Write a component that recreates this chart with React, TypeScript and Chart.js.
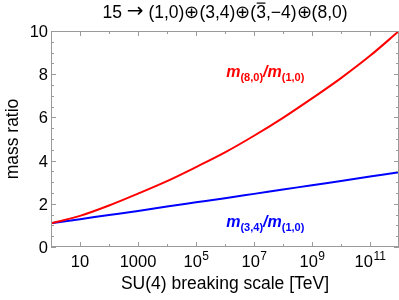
import React, { useEffect, useRef } from "react";
import { Chart, registerables } from "chart.js";

Chart.register(...registerables);

// Data (x = 10^exponent TeV)
const decadeExponents = [0, 1, 2, 3, 4, 5, 6, 7, 8, 9, 10, 11, 12];
const ratio80 = [1.1, 1.44, 1.92, 2.47, 3.05, 3.7, 4.38, 5.15, 5.98, 6.88, 7.82, 8.85, 10.0];
const ratio34 = [1.1, 1.29, 1.48, 1.67, 1.88, 2.07, 2.26, 2.46, 2.66, 2.86, 3.06, 3.26, 3.46];
const xTickExponents = [0, 1, 2, 3, 4, 5, 6, 7, 8, 9, 10, 11, 12];
const labelledExponents = [1, 3, 5, 7, 9, 11];
const yMajorTicks = [0, 2, 4, 6, 8, 10];

// Series label anchors (data coordinates)
const label80 = { x: 1.1e6, y: 7.88, num: "(8,0)", den: "(1,0)", color: "#ff0000" };
const label34 = { x: 1.1e6, y: 0.92, num: "(3,4)", den: "(1,0)", color: "#0000ff" };

const FONT = "'Liberation Sans', Arial, Helvetica, sans-serif";
const FRAME = "#9a9a9a";

const customPlugin = {
  id: "mathematicaFrame",
  afterDatasetsDraw(chart: any) {
    const ctx = chart.ctx;
    const { left, right, top, bottom } = chart.chartArea;
    const xs = chart.scales.x;
    const ys = chart.scales.y;
    ctx.save();
    ctx.strokeStyle = FRAME;
    ctx.lineWidth = 1;
    ctx.strokeRect(left + 0.5, top + 0.5, right - left - 1, bottom - top - 1);
    xs.ticks.forEach((t: any) => {
      const px = Math.round(xs.getPixelForValue(t.value)) + 0.5;
      const e = Math.round(Math.log10(t.value));
      const len = labelledExponents.includes(e) ? 5 : 3;
      ctx.beginPath();
      ctx.moveTo(px, bottom);
      ctx.lineTo(px, bottom - len);
      ctx.moveTo(px, top);
      ctx.lineTo(px, top + len);
      ctx.stroke();
    });
    ys.ticks.forEach((t: any) => {
      const py = Math.round(ys.getPixelForValue(t.value)) + 0.5;
      const len = yMajorTicks.includes(t.value) ? 5 : 3;
      ctx.beginPath();
      ctx.moveTo(left, py);
      ctx.lineTo(left + len, py);
      ctx.moveTo(right, py);
      ctx.lineTo(right - len, py);
      ctx.stroke();
    });
    ctx.restore();
  },
  afterDraw(chart: any) {
    const ctx = chart.ctx;
    const { left, right, top, bottom } = chart.chartArea;
    const xs = chart.scales.x;
    const ys = chart.scales.y;
    ctx.save();
    ctx.fillStyle = "#000";
    ctx.font = `16.5px ${FONT}`;
    ctx.textAlign = "right";
    ctx.textBaseline = "alphabetic";
    yMajorTicks.forEach((v) => {
      const py = ys.getPixelForValue(v);
      ctx.fillText(String(v), left - 3, py + 6);
    });
    labelledExponents.forEach((e) => {
      const px = xs.getPixelForValue(Math.pow(10, e));
      const base = 266.5;
      if (e === 1 || e === 3) {
        ctx.font = `16.5px ${FONT}`;
        ctx.textAlign = "center";
        ctx.fillText(e === 1 ? "10" : "1000", px, base);
      } else {
        ctx.font = `16.5px ${FONT}`;
        const w1 = ctx.measureText("10").width;
        ctx.font = `12px ${FONT}`;
        const supTxt = String(e);
        const w2 = ctx.measureText(supTxt).width;
        const start = px - (w1 + w2) / 2;
        ctx.textAlign = "left";
        ctx.font = `16.5px ${FONT}`;
        ctx.fillText("10", start, base);
        ctx.font = `12px ${FONT}`;
        ctx.fillText(supTxt, start + w1 + 0.5, base - 7);
      }
    });
    ctx.font = `17.5px ${FONT}`;
    ctx.textAlign = "center";
    ctx.fillText("SU(4) breaking scale [TeV]", (left + right) / 2, 289);
    ctx.save();
    ctx.translate(18, (top + bottom) / 2);
    ctx.rotate(-Math.PI / 2);
    ctx.fillText("mass ratio", 0, 0);
    ctx.restore();
    // plot title with overlined 3
    const parts: { t: string; f: string; over?: boolean }[] = [
      { t: "15 ", f: `17.5px ${FONT}` },
      { t: "\u2192", f: `20px 'DejaVu Sans', ${FONT}` },
      { t: " (1,0)\u2295(3,4)\u2295(", f: `17.5px ${FONT}` },
      { t: "3", f: `17.5px ${FONT}`, over: true },
      { t: ",\u22124)\u2295(8,0)", f: `17.5px ${FONT}` },
    ];
    ctx.textAlign = "left";
    let total = 0;
    parts.forEach((p) => {
      ctx.font = p.f;
      total += ctx.measureText(p.t).width;
    });
    let sx = (left + right) / 2 - total / 2;
    const tb = 17.5;
    parts.forEach((p) => {
      ctx.font = p.f;
      const w = ctx.measureText(p.t).width;
      ctx.fillText(p.t, sx, p.t === "\u2192" ? tb - 0.5 : tb);
      if (p.over) ctx.fillRect(sx + 0.5, tb - 15, w - 1, 1.2);
      sx += w;
    });
    [label80, label34].forEach((lb) => {
      let x = xs.getPixelForValue(lb.x);
      const y = ys.getPixelForValue(lb.y);
      ctx.fillStyle = lb.color;
      ctx.textAlign = "left";
      const big = `italic bold 16px ${FONT}`;
      const small = `bold 11px ${FONT}`;
      ctx.font = big;
      ctx.fillText("m", x, y);
      x += ctx.measureText("m").width;
      ctx.font = small;
      ctx.fillText(lb.num, x, y + 4);
      x += ctx.measureText(lb.num).width;
      ctx.font = big;
      ctx.fillText("/", x, y);
      x += ctx.measureText("/").width;
      ctx.fillText("m", x, y);
      x += ctx.measureText("m").width;
      ctx.font = small;
      ctx.fillText(lb.den, x, y + 4);
    });
    ctx.restore();
  },
};

export default function App() {
  const ref = useRef<HTMLCanvasElement | null>(null);
  useEffect(() => {
    if (!ref.current) return;
    const xVals = decadeExponents.map((e) => Math.pow(10, e));
    const chart = new Chart(ref.current, {
      type: "line",
      data: {
        datasets: [
          {
            label: "m(8,0)/m(1,0)",
            data: xVals.map((x, i) => ({ x, y: ratio80[i] })),
            borderColor: "#ff0000",
            borderWidth: 2,
            pointRadius: 0,
            cubicInterpolationMode: "monotone",
            fill: false,
          },
          {
            label: "m(3,4)/m(1,0)",
            data: xVals.map((x, i) => ({ x, y: ratio34[i] })),
            borderColor: "#0000ff",
            borderWidth: 2,
            pointRadius: 0,
            cubicInterpolationMode: "monotone",
            fill: false,
          },
        ],
      },
      options: {
        animation: false,
        responsive: false,
        maintainAspectRatio: false,
        layout: { padding: { left: 51, right: 0, top: 31, bottom: 53 } },
        plugins: { legend: { display: false }, tooltip: { enabled: false }, title: { display: false } },
        scales: {
          x: {
            type: "logarithmic",
            min: 1,
            max: 1e12,
            afterBuildTicks: (scale: any) => {
              scale.ticks = xTickExponents.map((e) => ({ value: Math.pow(10, e) }));
            },
            ticks: { display: false },
            grid: { display: false, drawTicks: false },
            border: { display: false },
            title: { display: false },
          },
          y: {
            type: "linear",
            min: 0,
            max: 10,
            ticks: { display: false, stepSize: 0.5 },
            grid: { display: false, drawTicks: false },
            border: { display: false },
            title: { display: false },
          },
        },
      },
      plugins: [customPlugin],
    });
    return () => chart.destroy();
  }, []);
  return (
    <div style={{ position: "absolute", left: 0, top: 0, width: 399, height: 300, background: "#fff" }}>
      <canvas ref={ref} width={399} height={300} style={{ display: "block" }} />
    </div>
  );
}
